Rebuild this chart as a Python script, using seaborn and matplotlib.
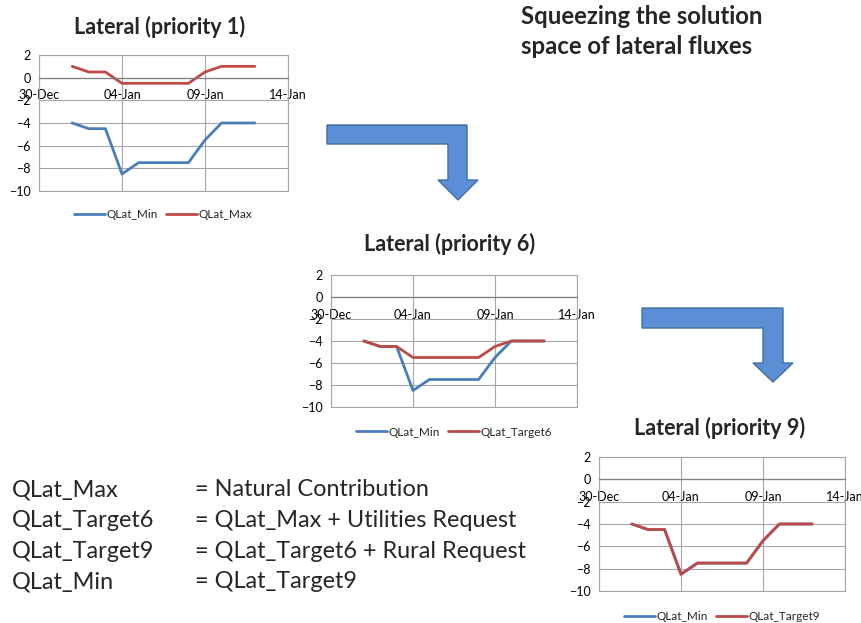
import pandas as pd
import matplotlib
matplotlib.use("Agg")
import matplotlib.pyplot as plt
import matplotlib.dates as mdates
from matplotlib.patches import Polygon
import seaborn as sns

# data (daily values, 1-Jan .. 12-Jan)
days = pd.date_range("2013-01-01", "2013-01-12", freq="D")
qlat_min = [-4, -4.5, -4.5, -8.5, -7.5, -7.5, -7.5, -7.5, -5.5, -4, -4, -4]
qlat_max = [1, 0.5, 0.5, -0.5, -0.5, -0.5, -0.5, -0.5, 0.5, 1, 1, 1]
qlat_target6 = [-4, -4.5, -4.5, -5.5, -5.5, -5.5, -5.5, -5.5, -4.5, -4, -4, -4]
qlat_target9 = [-4, -4.5, -4.5, -8.5, -7.5, -7.5, -7.5, -7.5, -5.5, -4, -4, -4]

x_ticks = pd.to_datetime(["2012-12-30", "2013-01-04", "2013-01-09", "2013-01-14"])
y_ticks = [-10, -8, -6, -4, -2, 0, 2]

definitions = [
    ("QLat_Max", "= Natural Contribution"),
    ("QLat_Target6", "= QLat_Max + Utilities Request"),
    ("QLat_Target9", "= QLat_Target6 + Rural Request"),
    ("QLat_Min", "= QLat_Target9"),
]

sns.set_style("white")
plt.rcParams['font.family'] = ['Lato', 'DejaVu Sans']

W, H = 862, 623
fig = plt.figure(figsize=(W / 100, H / 100), dpi=100)

blue = '#4A7EBB'
red = '#BE4B48'


def px_rect(x0, y0, x1, y1):
    return [x0 / W, 1 - y1 / H, (x1 - x0) / W, (y1 - y0) / H]


def draw_panel(rect, title, title_xy, other, other_label, leg_y):
    ax = fig.add_axes(px_rect(*rect))
    df = pd.DataFrame({'date': days, 'QLat_Min': qlat_min, other_label: other})
    sns.lineplot(data=df, x='date', y='QLat_Min', color=blue, linewidth=2.0,
                 label='QLat_Min', ax=ax)
    sns.lineplot(data=df, x='date', y=other_label, color=red, linewidth=2.0,
                 label=other_label, ax=ax)
    ax.set_xlim(x_ticks[0], x_ticks[-1])
    ax.set_ylim(-10, 2)
    ax.set_xticks(x_ticks)
    ax.set_yticks(y_ticks)
    ax.xaxis.set_major_formatter(mdates.DateFormatter('%d-%b'))
    ax.grid(True, color='#A6A6A6', linewidth=0.8)
    ax.set_axisbelow(True)
    for s in ['left', 'right', 'top']:
        ax.spines[s].set_color('#A6A6A6')
        ax.spines[s].set_linewidth(0.8)
    ax.spines['bottom'].set_position(('data', 0))
    ax.spines['bottom'].set_color('#808080')
    ax.spines['bottom'].set_linewidth(0.9)
    ax.axhline(-10, color='#A6A6A6', linewidth=0.8, clip_on=False)
    ax.tick_params(axis='both', length=0, labelsize=9, colors='black')
    ax.tick_params(axis='x', pad=8.5)
    ax.tick_params(axis='y', pad=6)
    ax.set_xlabel("")
    ax.set_ylabel("")
    ax.legend(loc='center', bbox_to_anchor=(0.5, leg_y), ncol=2, frameon=False,
              fontsize=8.5, handlelength=2.6, columnspacing=0.7, handletextpad=0.15)
    fig.text(title_xy[0] / W, 1 - title_xy[1] / H, title, ha='center', va='center',
             fontsize=15.5, fontweight='bold')
    return ax


draw_panel((39, 55, 288, 191), "Lateral (priority 1)", (160, 27), qlat_max, 'QLat_Max', -0.176)
draw_panel((331, 275, 577, 407), "Lateral (priority 6)", (450, 244), qlat_target6, 'QLat_Target6', -0.19)
draw_panel((599, 457, 845, 591), "Lateral (priority 9)", (720, 428), qlat_target9, 'QLat_Target9', -0.194)

# heading
fig.text(521 / W, 1 - 17 / H, "Squeezing the solution", ha='left', va='center',
         fontsize=17.2, fontweight='bold')
fig.text(521 / W, 1 - 47 / H, "space of lateral fluxes", ha='left', va='center',
         fontsize=17.2, fontweight='bold')

# definitions block
for i, (name, expr) in enumerate(definitions):
    yy = 1 - (490 + i * 30.5) / H
    fig.text(12 / W, yy, name, ha='left', va='center', fontsize=16.9)
    fig.text(195 / W, yy, expr, ha='left', va='center', fontsize=16.9)

# bent arrows
arrows = [
    [(327, 125), (467, 125), (467, 180), (478, 180), (458, 200), (438, 180),
     (448, 180), (448, 144), (327, 144)],
    [(642, 308), (783, 308), (783, 363), (793, 363), (773, 382), (753, 363),
     (763, 363), (763, 328), (642, 328)],
]
for pts in arrows:
    poly = Polygon([(x / W, 1 - y / H) for x, y in pts], closed=True,
                   transform=fig.transFigure, facecolor='#5B8ED5',
                   edgecolor='#41719C', linewidth=1.0)
    fig.patches.append(poly)

fig.savefig('out.png', dpi=100)
